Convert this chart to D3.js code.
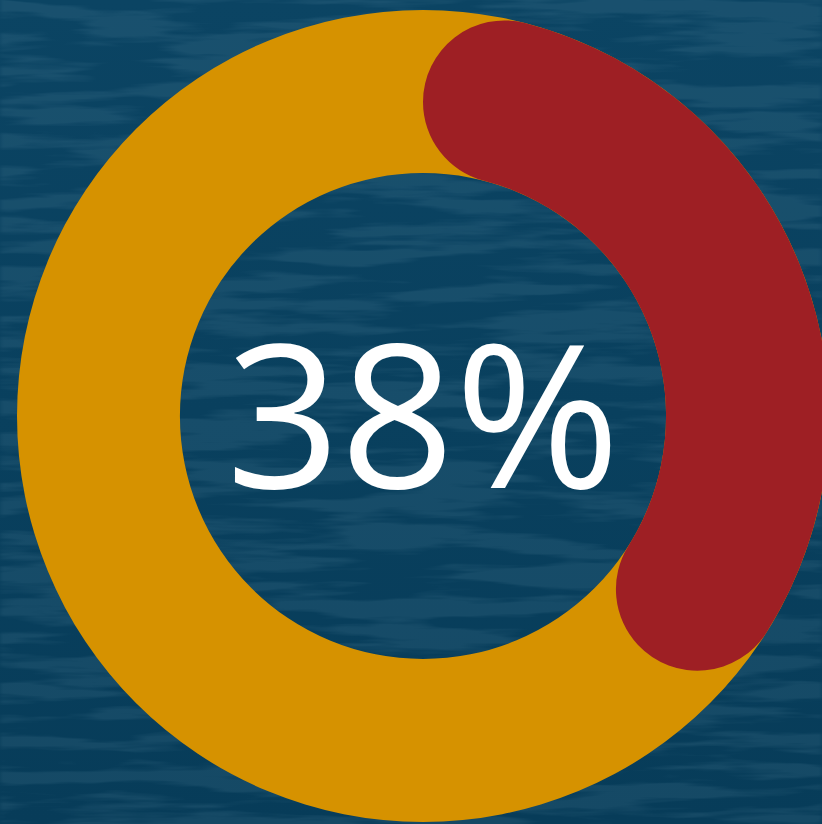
<!DOCTYPE html>
<html>
<head>
<meta charset="utf-8">
<script src="https://cdn.jsdelivr.net/npm/d3@7"></script>
<style>
  html, body { margin: 0; padding: 0; background: #0a4160; overflow: hidden; }
  svg { display: block; }
</style>
</head>
<body>
<svg id="chart" width="822" height="824"></svg>
<script>
// Share of the total, in percent
const labels = ["Progress", "Remaining"];
const values = [38, 62];
const total = [100];
const colors = ["#9e1f24", "#d69200"];

const width = 822, height = 824;
const cx = 423, cy = 416;
const outerR = 406, innerR = 243;

const svg = d3.select("#chart");
const defs = svg.append("defs");

// Water-like texture: stretched turbulence turned into faint pale streaks
const f = defs.append("filter").attr("id", "water")
  .attr("x", 0).attr("y", 0).attr("width", "100%").attr("height", "100%");
f.append("feTurbulence").attr("type", "fractalNoise")
  .attr("baseFrequency", "0.006 0.06").attr("numOctaves", 4).attr("seed", 7).attr("result", "n");
f.append("feColorMatrix").attr("in", "n").attr("type", "matrix")
  .attr("values", "0 0 0 0 0.30  0 0 0 0 0.52  0 0 0 0 0.64  0 0 0 -6 3.4")
  .attr("result", "streaks");
f.append("feGaussianBlur").attr("in", "streaks").attr("stdDeviation", "2 0.6");

const bg = defs.append("linearGradient").attr("id", "bgGrad")
  .attr("x1", 0).attr("y1", 0).attr("x2", 0).attr("y2", 1);
bg.append("stop").attr("offset", 0).attr("stop-color", "#0b4463");
bg.append("stop").attr("offset", 1).attr("stop-color", "#073c59");

svg.append("rect").attr("width", width).attr("height", height).attr("fill", "url(#bgGrad)");
svg.append("rect").attr("width", width).attr("height", height)
  .attr("filter", "url(#water)").attr("opacity", 0.1);

const g = svg.append("g").attr("transform", `translate(${cx},${cy})`);

const angle = d3.scaleLinear().domain([0, total[0]]).range([0, 2 * Math.PI]);

// Full track
const track = d3.arc().innerRadius(innerR).outerRadius(outerR)
  .startAngle(angle(0)).endAngle(angle(total[0]));
g.append("path").attr("d", track()).attr("fill", colors[1]);

// Value arc with round ends
const valueArc = d3.arc().innerRadius(innerR).outerRadius(outerR)
  .cornerRadius((outerR - innerR) / 2)
  .startAngle(angle(0)).endAngle(angle(values[0]));
g.append("path").attr("d", valueArc()).attr("fill", colors[0]);

g.append("text")
  .attr("x", 0).attr("y", 0)
  .attr("dy", "0.36em")
  .attr("text-anchor", "middle")
  .attr("font-family", "'Open Sans', sans-serif")
  .attr("font-size", 200)
  .attr("fill", "#ffffff")
  .text(`${values[0]}%`);
</script>
</body>
</html>
